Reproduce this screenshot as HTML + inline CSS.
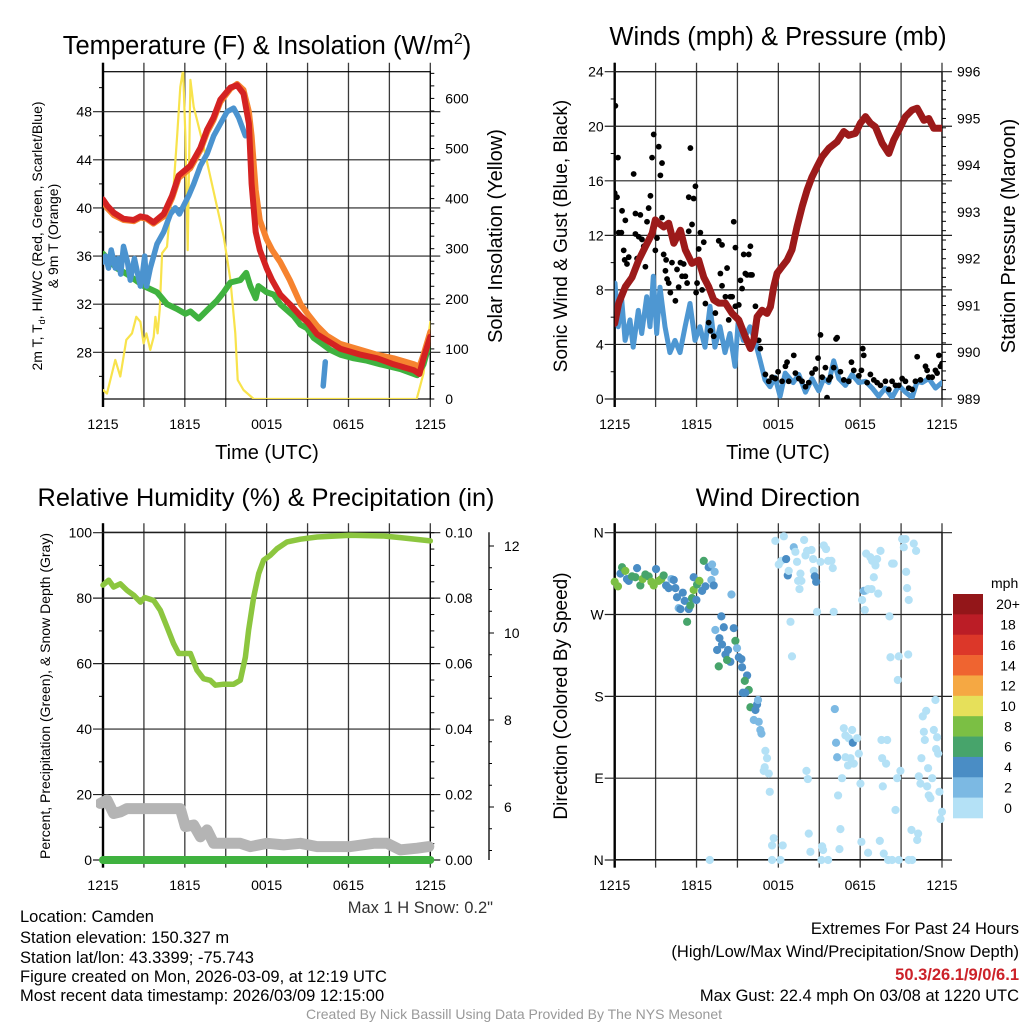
<!DOCTYPE html>
<html><head><meta charset="utf-8"><title>Mesonet Station Meteogram</title>
<style>
html,body{margin:0;padding:0;background:#fff;}
svg{display:block;font-family:"Liberation Sans",Arial,sans-serif;}
</style></head>
<body>
<svg id="fig" width="1024" height="1024" viewBox="0 0 1024 1024" xmlns="http://www.w3.org/2000/svg">
<defs>
<clipPath id="c1"><rect x="103" y="71.7" width="327.3" height="327.3"/></clipPath>
<clipPath id="c2"><rect x="614.7" y="71.7" width="327.3" height="327.3"/></clipPath>
<clipPath id="c3"><rect x="96" y="526" width="342" height="342"/></clipPath>
<clipPath id="c4"><rect x="609" y="527" width="338" height="338"/></clipPath>
</defs>
<g id="layer"></g>
<!-- titles -->
<text x="267" y="54" font-size="25.5" text-anchor="middle">Temperature (F) &amp; Insolation (W/m<tspan font-size="16" dy="-10">2</tspan><tspan dy="10">)</tspan></text>
<text x="778" y="45" font-size="25.5" text-anchor="middle">Winds (mph) &amp; Pressure (mb)</text>
<text x="266" y="506" font-size="25.3" text-anchor="middle">Relative Humidity (%) &amp; Precipitation (in)</text>
<text x="778" y="506" font-size="25.3" text-anchor="middle">Wind Direction</text>
<!-- axis titles -->
<text font-size="14" text-anchor="middle" transform="translate(42,236) rotate(-90)">2m T, T<tspan font-size="9" dy="3">d</tspan><tspan dy="-3">, HI/WC (Red, Green, Scarlet/Blue)</tspan></text>
<text font-size="14" text-anchor="middle" transform="translate(58,236) rotate(-90)">&amp; 9m T (Orange)</text>
<text font-size="20" text-anchor="middle" transform="translate(502,236) rotate(-90)">Solar Insolation (Yellow)</text>
<text x="267" y="459" font-size="20" text-anchor="middle">Time (UTC)</text>
<text font-size="19" text-anchor="middle" transform="translate(567,236) rotate(-90)">Sonic Wind &amp; Gust (Blue, Black)</text>
<text font-size="20" text-anchor="middle" transform="translate(1015,236) rotate(-90)">Station Pressure (Maroon)</text>
<text x="778" y="459" font-size="20" text-anchor="middle">Time (UTC)</text>
<text font-size="14" text-anchor="middle" transform="translate(50,696) rotate(-90)">Percent, Precipitation (Green), &amp; Snow Depth (Gray)</text>
<text font-size="19" text-anchor="middle" transform="translate(567,696) rotate(-90)">Direction (Colored By Speed)</text>
<!-- footer -->
<text x="493" y="913" font-size="16.5" text-anchor="end" fill="#333">Max 1 H Snow: 0.2"</text>
<g font-size="16.5">
<text x="20" y="922">Location: Camden</text>
<text x="20" y="943">Station elevation: 150.327 m</text>
<text x="20" y="963">Station lat/lon: 43.3399; -75.743</text>
<text x="20" y="982">Figure created on Mon, 2026-03-09, at 12:19 UTC</text>
<text x="20" y="1001">Most recent data timestamp: 2026/03/09 12:15:00</text>
</g>
<g font-size="16.5" text-anchor="end">
<text x="1019" y="934">Extremes For Past 24 Hours</text>
<text x="1019" y="957">(High/Low/Max Wind/Precipitation/Snow Depth)</text>
<text x="1019" y="980" fill="#cc2229" font-weight="bold">50.3/26.1/9/0/6.1</text>
<text x="1019" y="1001">Max Gust: 22.4 mph On 03/08 at 1220 UTC</text>
</g>
<text x="514" y="1019" font-size="14" text-anchor="middle" fill="#999">Created By Nick Bassill Using Data Provided By The NYS Mesonet</text>
</svg>
<script>
// ---------- data ----------
var timeTickLabels = ["1215","1815","0015","0615","1215"];
var tempTicks = [28,32,36,40,44,48];
var solarTicks = [0,100,200,300,400,500,600];
var windTicks = [0,4,8,12,16,20,24];
var presTicks = [989,990,991,992,993,994,995,996];
var rhTicks = [0,20,40,60,80,100];
var precipTicks = ["0.00","0.02","0.04","0.06","0.08","0.10"];
var snowTicks = [6,8,10,12];
var dirTickLabels = ["N","E","S","W","N"];
var speedBinLabels = ["0","2","4","6","8","10","12","14","16","18","20+"];
var speedBinColors = ["#b4e1f6","#7cb9e3","#4a8dc5","#47a46b","#7bbf44","#e6e05a","#f5a843","#ef6430","#dc3729","#bb1d26","#931619"];

var tempHours = [0,0.3,0.8,1.5,2.25,2.74,3.2,3.7,4.45,5.06,5.55,6.4,7.14,7.63,8.1,8.6,9.34,9.83,10.3,10.7,10.9,11.2,11.5,12.0,12.4,13.0,13.7,14.5,15.0,15.7,16.4,17.4,18.9,20.1,21.3,22.8,23.2,23.5,24];
var tempRed = [40.7,40.2,39.6,39.1,39.0,39.3,39.2,38.8,39.5,41.0,42.7,43.5,45.0,46.5,47.5,49.0,50.0,50.2,49.5,47.0,42.0,38.0,36.5,35.0,34.0,32.8,32.0,31.0,30.5,29.5,29.0,28.3,27.8,27.5,27.0,26.5,26.2,27.5,29.3];
var tempOrange = [40.6,40.0,39.4,39.0,38.9,39.2,39.1,38.7,39.3,40.8,42.5,43.3,44.8,46.3,47.3,48.8,49.9,50.3,49.8,48.0,46.0,41.5,39.0,37.4,36.5,35.5,34.0,32.0,31.2,30.2,29.4,28.7,28.2,27.8,27.5,27.0,26.8,27.8,29.7];
var dewHours = [0,1.0,1.76,3.0,3.96,4.69,5.43,6.04,6.41,7.02,7.63,8.36,8.85,9.34,10.07,10.5,10.8,11.2,11.4,12.0,12.52,13.0,13.5,13.99,14.47,14.96,15.45,15.94,16.67,17.41,18.39,19.36,20.34,21.81,23.03,23.5,24];
var dewGreen = [36.2,35.0,34.5,33.5,33.0,32.0,31.6,31.2,31.4,30.8,31.5,32.3,33.0,33.8,34.0,34.6,33.5,32.5,33.5,33.0,32.8,32.0,31.5,31.0,30.3,30.0,29.2,28.8,28.2,27.8,27.5,27.3,27.0,26.6,26.1,27.0,29.0];
var chillHours = [0,0.2,0.4,0.6,0.9,1.1,1.3,1.5,1.8,2.0,2.3,2.6,2.74,2.9,3.06,3.2,3.47,3.96,4.45,4.94,5.3,5.6,6.28,6.65,7.14,7.63,8.12,8.61,9.1,9.58,9.95,10.44];
var chillBlue = [35.5,36.0,35.0,36.5,35.0,35.8,34.5,36.8,35.5,34.0,35.8,34.2,33.5,34.5,36.0,33.5,35.0,37.0,38.0,39.5,40.0,39.5,41.0,42.0,43.5,44.5,46.0,47.0,48.0,48.3,47.5,46.0];
var chillHours2 = [16.15,16.3];
var chillBlue2 = [25.2,27.2];
var solarHours = [0,0.29,0.9,1.27,1.71,2.13,2.44,2.74,2.98,3.18,3.47,3.72,3.84,4.0,4.16,4.33,4.69,4.94,5.18,5.43,5.67,5.87,6.04,6.21,6.41,6.65,6.89,7.38,7.87,8.36,8.85,9.34,9.7,9.88,10.3,11.05,23.0,23.5,24];
var solarVals = [18,11,78,45,118,131,164,154,111,131,98,124,164,131,178,291,304,384,424,524,623,657,524,297,637,583,557,504,444,384,324,238,131,38,18,0,0,51,154];

var windHours = [0.02,0.26,0.51,0.76,1.12,1.36,1.73,1.98,2.35,2.59,2.83,3.08,3.32,3.69,4.05,4.42,4.79,5.16,5.52,5.89,6.25,6.62,6.99,7.35,7.72,8.09,8.45,8.82,9.06,9.43,9.92,10.28,10.65,11.02,11.39,11.76,12.13,12.5,13.09,13.5,13.99,14.47,14.96,15.33,15.7,16.06,16.43,16.92,17.41,17.9,18.39,18.88,19.36,19.85,20.34,20.83,21.32,21.81,22.18,22.54,23.03,23.52,24];
var windSpeed = [8.5,5.3,7.3,4.3,5.8,3.8,6.5,4.8,7.5,5.3,9.0,4.8,8.2,5.3,3.4,4.3,3.4,5.3,7.0,4.3,5.3,3.8,6.8,3.8,5.3,3.4,4.8,2.4,5.8,4.3,5.3,4.3,2.9,1.4,0.9,1.6,0.2,1.9,1.2,1.8,0.5,1.5,0.6,1.5,1.2,2.8,1.5,1.0,1.8,1.2,1.3,0.8,0.2,0.8,0.1,1.0,0.5,0.1,1.3,1.2,1.5,0.8,1.2];
var gustHours = [0,0.05,0.17,0.24,0.29,0.49,0.54,0.66,0.78,0.73,0.9,1.03,1.39,1.52,1.52,1.64,1.76,1.88,2.0,2.13,2.25,2.37,2.49,2.62,2.74,2.86,2.98,3.1,3.23,3.35,3.47,3.47,3.59,3.72,3.77,3.84,3.96,4.08,4.2,4.45,4.57,4.69,4.82,4.94,5.06,5.18,5.31,5.43,5.55,5.43,5.67,5.79,5.92,5.97,6.04,6.16,6.28,6.41,6.53,6.65,6.89,7.02,7.26,7.38,7.63,7.75,7.87,7.87,8.12,8.24,8.36,8.48,8.61,8.73,8.85,8.85,9.1,9.22,9.34,9.46,9.58,9.71,9.83,9.95,9.95,10.07,10.32,10.56,10.68,11.05,11.3,11.54,11.78,11.98,12.27,12.52,12.64,12.76,13.13,13.25,13.5,13.74,13.99,14.23,14.47,14.72,14.91,15.09,15.21,15.45,15.57,15.7,15.82,16.06,16.23,16.31,16.55,16.8,17.16,17.36,17.53,17.9,18.09,18.19,18.26,18.51,18.75,19.0,19.24,19.49,19.85,20.1,20.34,20.59,20.83,21.08,21.32,21.56,21.81,22.05,22.18,22.42,22.79,22.91,23.03,23.28,23.52,23.64,23.77,23.89,24];
var gustSpeed = [15.1,21.5,14.8,17.7,12.2,12.2,13.8,10.9,13.1,10.2,9.9,10.4,16.5,13.6,12.1,10.3,11.9,13.5,11.7,11.2,9.7,13.0,14.0,14.9,17.7,19.4,10.9,11.8,18.5,16.4,17.3,13.3,10.6,9.4,10.2,8.8,8.5,7.8,10.0,7.2,9.5,8.2,10.0,9.0,9.9,9.0,8.5,12.3,18.4,14.8,12.8,14.7,15.6,7.8,8.5,11.0,12.2,8.0,11.5,7.0,5.6,5.0,4.6,6.3,11.6,9.2,11.3,8.3,7.5,9.6,5.8,7.5,7.5,13.0,11.1,6.8,6.9,8.7,8.1,10.6,9.2,9.1,10.6,11.2,9.1,9.1,6.8,4.3,3.7,1.8,1.3,1.6,1.5,2.0,1.3,2.4,2.7,1.3,3.2,1.9,1.5,1.3,0.9,1.2,1.9,2.2,3.0,4.7,1.6,2.3,0.1,1.4,1.6,2.3,4.4,4.5,2.0,1.4,1.3,2.7,2.1,1.7,2.1,3.7,3.2,1.2,1.8,1.4,1.2,1.0,1.3,0.7,1.3,1.0,1.0,1.5,1.3,0.8,0.7,1.3,3.1,1.4,2.4,2.1,1.6,1.6,2.1,1.9,3.2,2.4,2.6];
var presHours = [0,0.29,0.78,1.27,1.76,2.25,2.74,2.98,3.23,3.59,3.96,4.33,4.82,5.18,5.67,6.16,6.53,6.89,7.26,7.63,8.12,8.61,9.1,9.58,9.95,10.2,10.44,10.81,11.17,11.42,11.66,11.91,12.27,12.64,13.0,13.37,13.74,14.11,14.47,14.84,15.21,15.7,16.31,16.8,17.16,17.65,18.02,18.39,18.75,19.12,19.61,20.1,20.46,20.83,21.32,21.81,22.18,22.67,23.03,23.4,24];
var presVals = [990.62,991.05,991.4,991.6,991.97,992.26,992.54,992.83,992.76,992.68,992.76,992.33,992.61,992.19,991.9,991.97,991.6,991.4,991.12,991.05,991.05,990.83,990.69,990.33,990.08,990.26,990.76,990.9,990.83,990.97,991.4,991.69,991.83,991.97,992.19,992.68,993.11,993.47,993.75,993.97,994.18,994.36,994.5,994.72,994.64,994.68,994.9,995.04,994.9,994.82,994.47,994.25,994.54,994.75,995.04,995.18,995.22,994.96,995.0,994.79,994.79];

var rhHours = [0,0.42,0.78,1.27,1.76,2.25,2.74,3.06,3.72,4.2,4.69,5.18,5.55,6.04,6.41,6.89,7.38,7.87,8.24,8.85,9.58,10.07,10.44,10.68,11.05,11.42,11.78,12.27,12.76,13.5,14.47,15.7,18.14,20.59,21.81,24];
var rhVals = [84,85.5,83.4,84.4,82.4,80.9,78.8,80.2,79.3,76.3,71.2,66.1,63.1,63.1,63.1,58,55.4,54.9,53.4,53.7,53.7,54.9,62,70.2,80.4,87.5,91.6,93.1,95.1,97.2,98,98.7,99.2,99,98.5,97.5];
var snowHours = [-0.2,0.29,0.78,1.27,1.76,4.69,5.67,6.04,6.65,7.14,7.63,8.12,8.61,10.07,10.81,12.03,13.25,14.47,15.7,18.14,19.85,20.83,21.81,23.03,23.89];
var snowVals = [17.3,18.3,14.2,14.7,15.7,15.7,15.7,10.2,10.7,7.1,9.2,5.1,5.1,5.1,4.1,5.1,4.6,5.1,4.1,4.1,5.1,5.1,3.1,3.6,4.1];
var precipHours = [0,24];
var precipVals = [0,0];

var dirHours = [0,0.24,0.42,0.54,0.78,0.9,1.03,1.27,1.52,1.64,1.88,2.05,2.25,2.49,2.69,2.86,3.03,3.23,3.42,3.59,3.77,3.96,4.16,4.33,4.45,4.57,4.69,4.82,4.99,5.13,5.31,5.43,5.55,5.67,5.79,5.79,5.99,6.04,6.21,6.41,6.53,6.65,6.89,7.09,7.14,7.26,7.33,8.56,
7.82,7.38,8.0,8.73,7.68,7.87,7.51,8.12,8.31,8.85,8.97,9.1,8.48,8.24,7.63,9.29,9.34,9.71,9.54,9.39,9.83,9.58,9.95,10.32,10.44,10.51,10.2,10.56,10.68,10.76,11.05,11.17,11.0,10.93,11.3,11.37,
11.78,12.03,12.22,12.4,12.57,12.69,12.76,13.13,13.25,13.37,13.45,13.55,13.62,13.69,13.89,13.99,14.11,14.43,14.55,14.6,14.67,14.77,14.84,15.09,15.33,15.5,15.65,15.89,15.99,16.06,12.89,13.0,
11.66,11.54,12.32,11.54,12.15,6.97,14.23,14.35,15.21,15.28,15.16,15.65,16.55,16.48,18.09,18.58,19.44,19.73,20.05,20.34,20.83,21.56,21.81,21.76,22.25,22.18,
16.14,16.23,16.31,16.8,16.92,17.41,17.16,17.46,17.78,17.9,16.92,17.11,17.29,17.53,16.67,16.38,18.02,14.06,14.16,18.39,18.26,18.14,18.34,18.44,18.75,18.88,19.12,19.24,19.49,19.0,18.83,18.58,19.32,20.34,20.46,20.15,20.22,20.83,21.52,20.76,21.08,21.32,21.2,21.93,22.1,21.37,21.44,21.56,19.56,19.98,19.61,19.9,19.66,20.59,20.71,20.95,22.3,22.42,22.98,22.91,23.28,23.03,23.15,22.59,22.84,23.52,22.67,23.4,22.74,23.64,22.49,23.57,23.72,23.81,24.0,23.89];
var dirDeg = [306,301,315,322,318,309,307,312,311,321,302,309,314,312,306,302,320,307,309,313,302,299,309,308,299,289,277,276,294,285,262,276,280,288,297,311,286,303,307,296,329,301,322,308,325,302,317,292,
268,253,256,255,244,237,231,226,231,241,233,223,218,220,213,221,212,203,197,184,187,184,168,165,171,176,154,152,143,139,120,112,102,98,95,75,
351,325,329,356,331,313,318,344,339,328,307,298,315,307,352,335,340,341,331,318,312,306,273,328,346,342,329,329,321,273,262,224,
24,16,16,0,0,0,29,9,15,11,0,0,34,12,20,8,21,7,0,0,0,0,0,33,29,22,
166,129,113,145,137,143,134,129,134,117,113,104,112,106,90,71,84,98,89,296,296,286,275,337,333,329,324,331,340,311,298,298,293,326,326,268,223,224,226,198,353,353,344,348,340,317,299,286,132,132,112,106,81,55,90,98,92,84,101,81,90,71,68,158,164,176,141,143,132,135,112,122,117,75,53,45];
var dirSpeed = [9,9,5,7,9,5,5,7,7,5,7,9,7,7,9,9,5,9,9,7,5,5,3,5,5,5,3,5,5,5,7,5,7,7,9,5,5,7,9,5,7,5,5,3,3,5,3,3,
5,3,5,5,5,5,5,5,5,7,3,5,5,7,7,5,5,5,7,5,7,5,7,5,5,3,3,3,3,3,1,1,1,1,1,1,
1,1,1,1,5,5,1,3,1,1,1,1,1,1,1,1,1,1,1,1,5,5,1,1,1,1,1,1,1,1,1,1,
1,1,1,1,1,1,1,1,1,1,1,1,1,1,1,1,1,1,1,1,1,1,1,1,1,1,
3,3,3,1,1,1,1,5,1,1,1,1,1,1,1,1,1,1,1,1,3,1,1,1,1,1,1,1,1,1,1,1,1,1,1,1,1,1,1,1,1,1,1,1,1,1,1,1,1,1,1,1,1,1,1,1,1,1,1,1,1,1,1,1,1,1,1,1,1,1,1,1,1,1,1,1];

// ---------- helpers ----------
var NS = "http://www.w3.org/2000/svg";
var layer = document.getElementById("layer");
function mk(tag, attrs, parent){
  var e = document.createElementNS(NS, tag);
  for (var k in attrs) e.setAttribute(k, attrs[k]);
  (parent||layer).appendChild(e);
  return e;
}
var W = 327.3;
function xAt(h, left){ return left + h * W / 24; }
function yT(v){ return 352.3 - (v - 28) * 12.03; }
function ySol(w){ return 399 - w * 0.501; }
function yWind(m){ return 399 - m * W / 24; }
function yPres(p){ return 399 - (p - 989) * W / 7; }
function yRH(v){ return 860 - v * W / 100; }
function ySnow(v){ return 807 - (v - 6) * 43.5; }
function yDir(d){ return 860 - d * W / 360; }
function pts(hs, vs, left, yf){
  var s = [];
  for (var i = 0; i < hs.length; i++) s.push(xAt(hs[i], left).toFixed(1) + "," + yf(vs[i]).toFixed(1));
  return s.join(" ");
}

function frame(left, top, name){
  var g = mk("g", {});
  
  
  var bottom = top + W;
  for (var k = 0; k <= 8; k++){
    var x = xAt(k * 3, left);
    mk("line", {x1:x, y1:top-9, x2:x, y2:bottom+8, stroke:"#3a3a3a", "stroke-width":1.3}, g);
  }
  mk("rect", {x:left, y:top, width:W, height:W, fill:"none", stroke:"#000", "stroke-width":1.2}, g);
  mk("line", {x1:left, y1:top-9, x2:left, y2:bottom+8, stroke:"#000", "stroke-width":2.4}, g);
  for (var j = 0; j < timeTickLabels.length; j++){
    var t = mk("text", {x:xAt(j*6, left), y: top < 300 ? 429 : 890, "font-size":14, "text-anchor":"middle"}, g);
    
    
    t.textContent = timeTickLabels[j];
  }
  return g;
}
function hgrid(g, left, y){
  mk("line", {x1:left-10, y1:y, x2:left+W+10, y2:y, stroke:"#222", "stroke-width":1.2}, g);
}
function leftLabel(g, left, y, txt){
  var t = mk("text", {x:left-11, y:y+5, "font-size":14, "text-anchor":"end"}, g);
  
  
  t.textContent = txt;
}
function rightLabel(g, left, y, txt){
  var t = mk("text", {x:left+W+15, y:y+5, "font-size":14, "text-anchor":"start"}, g);
  
  
  t.textContent = txt;
}
function minor(g, x, y, dir){ mk("line", {x1:x, y1:y, x2:x+dir*4, y2:y, stroke:"#000", "stroke-width":1}, g); }

// ---------- panel 1: temperature ----------
var L1 = 103, T1 = 71.7;
var g1 = frame(L1, T1, "temperature");
for (var i = 0; i < tempTicks.length; i++){ var y = yT(tempTicks[i]); hgrid(g1, L1, y); leftLabel(g1, L1, y, tempTicks[i]); }
for (var v = 26; v <= 50; v += 4) minor(g1, L1, yT(v), -1);
for (var i = 0; i < solarTicks.length; i++){ rightLabel(g1, L1, ySol(solarTicks[i]), solarTicks[i]); }
for (var w = 0; w <= 650; w += 25) minor(g1, L1+W, ySol(w), 1);
var d1 = mk("g", {"clip-path":"url(#c1)", fill:"none", "stroke-linejoin":"round", "stroke-linecap":"round"});
var el;
el = mk("polyline", {points:pts(solarHours, solarVals, L1, ySol), stroke:"#f8e34c", "stroke-width":2.2}, d1);


el = mk("polyline", {points:pts(dewHours, dewGreen, L1, yT), stroke:"#3fb23f", "stroke-width":6}, d1);


el = mk("polyline", {points:pts(chillHours, chillBlue, L1, yT), stroke:"#4b93cf", "stroke-width":5.5}, d1);


el = mk("polyline", {points:pts(chillHours2, chillBlue2, L1, yT), stroke:"#4b93cf", "stroke-width":5.5}, d1);


el = mk("polyline", {points:pts(tempHours, tempOrange, L1, yT), stroke:"#f6832f", "stroke-width":6}, d1);


el = mk("polyline", {points:pts(tempHours, tempRed, L1, yT), stroke:"#d42222", "stroke-width":6}, d1);



// ---------- panel 2: winds ----------
var L2 = 614.7;
var g2 = frame(L2, T1, "wind");
for (var i = 0; i < windTicks.length; i++){ var y = yWind(windTicks[i]); hgrid(g2, L2, y); leftLabel(g2, L2, y, windTicks[i]); }
for (var v = 2; v <= 22; v += 4) minor(g2, L2, yWind(v), -1);
for (var i = 0; i < presTicks.length; i++){ rightLabel(g2, L2, yPres(presTicks[i]), presTicks[i]); }
for (var p = 989; p <= 996; p += 0.2) minor(g2, L2+W, yPres(p), 1);
var d2 = mk("g", {"clip-path":"url(#c2)", fill:"none", "stroke-linejoin":"round", "stroke-linecap":"round"});
el = mk("polyline", {points:pts(windHours, windSpeed, L2, yWind), stroke:"#4e97d2", "stroke-width":5}, d2);


var gg = mk("g", {fill:"#000"}, d2);


for (var i = 0; i < gustHours.length; i++){
  var c = mk("circle", {cx:xAt(gustHours[i], L2), cy:yWind(gustSpeed[i]), r:2.9}, gg);
  
  
}
el = mk("polyline", {points:pts(presHours, presVals, L2, yPres), stroke:"#9c1a1a", "stroke-width":7}, d2);



// ---------- panel 3: RH ----------
var T3 = 532.3;
var g3 = frame(L1, T3, "humidity");
for (var i = 0; i < rhTicks.length; i++){ var y = yRH(rhTicks[i]); hgrid(g3, L1, y); leftLabel(g3, L1, y, rhTicks[i]); rightLabel(g3, L1, y, precipTicks[i]); }
for (var v = 10; v <= 90; v += 20) minor(g3, L1, yRH(v), -1);
for (var v = 0; v <= 100; v += 5) minor(g3, L1+W, yRH(v), 1);
var sa = mk("g", {});


mk("line", {x1:489, y1:T3, x2:489, y2:860, stroke:"#000", "stroke-width":1.3}, sa);
for (var v = 5; v <= 12.5; v += 0.5){ var yy = ySnow(v); if (yy >= T3 && yy <= 860) mk("line", {x1:489, y1:yy, x2:(v%2===0)?494:492, y2:yy, stroke:"#000", "stroke-width":1}, sa); }
for (var i = 0; i < snowTicks.length; i++){
  var t = mk("text", {x:504, y:ySnow(snowTicks[i])+5, "font-size":14}, sa);
  
  
  t.textContent = snowTicks[i];
}
var d3 = mk("g", {"clip-path":"url(#c3)", fill:"none", "stroke-linejoin":"round", "stroke-linecap":"round"});
el = mk("polyline", {points:pts(snowHours, snowVals, L1, yRH), stroke:"#b4b4b4", "stroke-width":11}, d3);


el = mk("polyline", {points:pts(precipHours, precipVals, L1, yRH), stroke:"#3fb23f", "stroke-width":8}, d3);


el = mk("polyline", {points:pts(rhHours, rhVals, L1, yRH), stroke:"#8cc63f", "stroke-width":5.5}, d3);



// ---------- panel 4: wind direction ----------
var g4 = frame(L2, T3, "direction");
for (var i = 0; i < dirTickLabels.length; i++){ var y = yDir(i*90); hgrid(g4, L2, y); leftLabel(g4, L2, y, dirTickLabels[i]); }
var d4 = mk("g", {"clip-path":"url(#c4)"});
function binColor(s){ var b = Math.min(10, Math.floor(s/2)); return speedBinColors[b]; }
for (var i = 0; i < dirHours.length; i++){
  var c = mk("circle", {cx:xAt(dirHours[i], L2), cy:yDir(dirDeg[i]), r:4.1, fill:binColor(dirSpeed[i])}, d4);
  
  
}
var cb = mk("g", {});


var cbTop = 594, cbH = 224/11;
for (var i = 0; i < speedBinColors.length; i++){
  var k = speedBinColors.length - 1 - i;
  var r = mk("rect", {x:953, y:cbTop + i*cbH, width:30, height:cbH+0.3, fill:speedBinColors[k]}, cb);
  
  
  var t = mk("text", {x:1008, y:cbTop + i*cbH + cbH/2 + 5, "font-size":14, "text-anchor":"middle"}, cb);
  
  
  t.textContent = speedBinLabels[k];
}
var mt = mk("text", {x:991, y:588, "font-size":14}, cb);


mt.textContent = "mph";
</script>
</body></html>
